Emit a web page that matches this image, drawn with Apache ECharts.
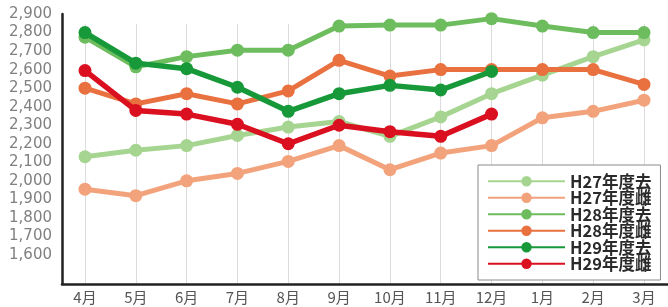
<!DOCTYPE html>
<html>
<head>
<meta charset="utf-8">
<script src="https://cdn.jsdelivr.net/npm/echarts@6/dist/echarts.min.js"></script>
<style>
  html, body { margin: 0; padding: 0; background: #fff; }
  #main { width: 668px; height: 307px; }
</style>
</head>
<body>
<div id="main"></div>
<script>
// 月
const months = ['4月', '5月', '6月', '7月', '8月', '9月', '10月', '11月', '12月', '1月', '2月', '3月'];

// 各年度の値
const h27kyo = [2130, 2165, 2190, 2245, 2290, 2320, 2240, 2345, 2470, 2570, 2670, 2760];
const h27shi = [1955, 1920, 2000, 2040, 2105, 2190, 2060, 2150, 2190, 2340, 2375, 2435];
const h28kyo = [2775, 2615, 2670, 2705, 2705, 2835, 2840, 2840, 2875, 2835, 2800, 2800];
const h28shi = [2500, 2415, 2470, 2415, 2485, 2650, 2565, 2600, 2600, 2600, 2600, 2520];
const h29kyo = [2800, 2635, 2605, 2505, 2375, 2470, 2515, 2490, 2590];
const h29shi = [2595, 2380, 2360, 2305, 2200, 2300, 2265, 2240, 2360];

const seriesNames = ['H27年度去', 'H27年度雌', 'H28年度去', 'H28年度雌', 'H29年度去', 'H29年度雌'];
const seriesData = [h27kyo, h27shi, h28kyo, h28shi, h29kyo, h29shi];
const seriesColors = ['#a6d591', '#f2a37c', '#6dbd5f', '#e9703f', '#17993a', '#da0f1f'];
const lineWidths = [5, 5, 5, 5, 5.5, 5.5];

const yTicks = { min: 1600, max: 2900, interval: 100 };

let myChart = echarts.init(document.getElementById('main'));

let series = seriesData.map(function (d, i) {
  return {
    name: seriesNames[i],
    type: 'line',
    xAxisIndex: 2,
    yAxisIndex: 2,
    data: d,
    symbol: 'circle',
    symbolSize: 13,
    clip: false,
    lineStyle: { width: lineWidths[i], color: seriesColors[i] },
    itemStyle: { color: seriesColors[i] },
    z: 3 + i
  };
});

let option = {
  animation: false,
  grid: [
    // 枠線
    { left: 62, right: 0, top: 14, bottom: 23 },
    // 縦の目盛線と月ラベル
    { left: 85, right: 24, top: 24, bottom: 23 },
    // データ
    { left: 85, right: 24, top: 14, bottom: 52 }
  ],
  xAxis: [
    {
      gridIndex: 0, type: 'value', min: 0, max: 1,
      axisLine: { show: true, lineStyle: { color: '#222', width: 2.5 } },
      axisTick: { show: false }, axisLabel: { show: false }, splitLine: { show: false }
    },
    {
      gridIndex: 1, type: 'category', data: months, boundaryGap: false,
      axisLine: { show: false }, axisTick: { show: false },
      splitLine: { show: true, lineStyle: { color: '#dcdcdc', width: 1 } },
      axisLabel: { color: '#555', fontSize: 15, margin: 6, fontFamily: 'Noto Sans CJK JP' }
    },
    {
      gridIndex: 2, type: 'category', data: months, boundaryGap: false, show: false
    }
  ],
  yAxis: [
    {
      gridIndex: 0, type: 'value', min: 0, max: 1,
      axisLine: { show: true, lineStyle: { color: '#222', width: 2.5 } },
      axisTick: { show: false }, axisLabel: { show: false }, splitLine: { show: false }
    },
    {
      gridIndex: 1, type: 'value', show: false, splitLine: { show: false }
    },
    {
      gridIndex: 2, type: 'value',
      min: yTicks.min, max: yTicks.max, interval: yTicks.interval,
      axisLine: { show: false }, axisTick: { show: false }, splitLine: { show: false },
      axisLabel: {
        color: '#808080', fontSize: 15, margin: 33, fontFamily: 'DejaVu Sans',
        formatter: function (v) { return v.toLocaleString('en-US'); }
      }
    }
  ],
  legend: {
    orient: 'vertical',
    left: 478,
    top: 165,
    padding: [8, 9, 8, 9],
    itemWidth: 77,
    itemHeight: 13,
    itemGap: 0,
    borderColor: '#8a8a8a',
    borderWidth: 1,
    backgroundColor: '#fff',
    textStyle: {
      color: '#2a2a2a', fontSize: 16.5, lineHeight: 15.7, fontWeight: 'bold',
      fontFamily: 'Noto Sans CJK JP'
    },
    data: seriesNames
  },
  series: series
};

myChart.setOption(option);
</script>
</body>
</html>
